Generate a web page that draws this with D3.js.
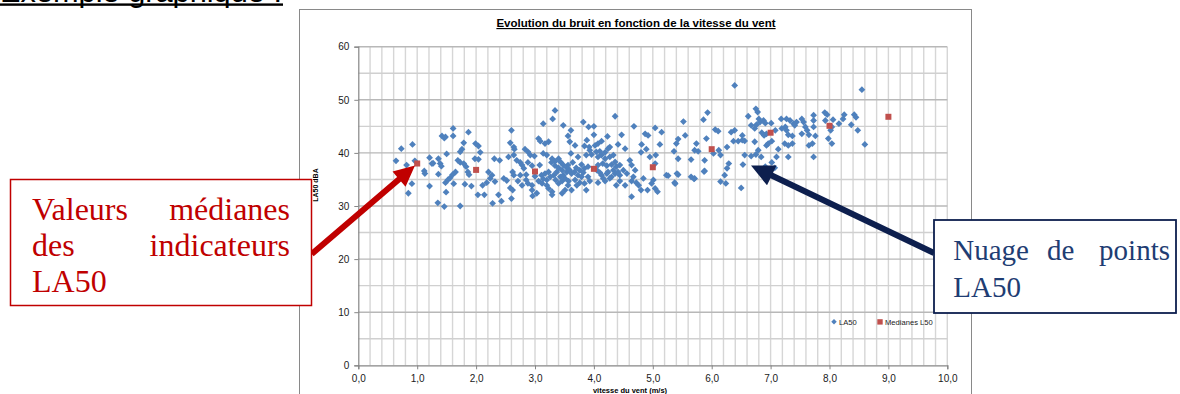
<!DOCTYPE html>
<html>
<head>
<meta charset="utf-8">
<script src="https://cdn.jsdelivr.net/npm/d3@7/dist/d3.min.js"></script>
<style>
  body { margin: 0; background: #fff; }
  svg { display: block; }
</style>
</head>
<body>
<svg id="chart"></svg>
<script>
// nuage de points LA50 : [vitesse du vent (m/s), LA50 (dBA)]
const la50Points = [
  [0.64,38.5],[0.73,40.8],[0.92,41.6],[0.82,37.7],[0.91,34.2],[0.85,32.4],[0.96,38.5],[1.27,38.05],
  [1.21,39.1],[1.25,38],[1.12,36.6],[1.13,36.1],[1.21,33.75],[1.36,36],[1.35,30.6],[1.46,29.9],[1.42,43.2],
  [1.46,42.8],[1.48,43.0],[1.61,44.6],[1.61,43.2],[1.50,39.8],[1.36,38.9],[1.39,38],[1.41,37.5],[1.48,34.4],
  [1.52,34.9],[1.56,35.3],[1.60,35.9],[1.65,36.4],[1.62,34.2],[1.49,32.6],[1.73,30],[1.79,41.9],[1.76,40.7],
  [1.73,40.2],[1.69,38.6],[1.73,38.2],[1.79,38],[1.83,37.4],[1.87,43.9],[1.81,34.1],[1.92,33.75],[1.86,36.4],
  [1.88,35.9],[1.99,41.75],[2.04,41.3],[2.07,40.1],[1.98,38.9],[2.04,38.8],[2.03,32.1],[2.14,32.1],[2.11,33.9],
  [2.18,34.4],[2.24,35.2],[2.21,36.4],[2.27,35.8],[2.31,38.9],[2.28,30.5],[2.43,30.9],[2.38,32.1],[2.32,34.6],
  [2.40,38.6],[2.47,35.2],[2.52,34.8],[2.55,39.25],[2.60,44.25],[2.58,41.9],[2.64,41.1],[2.65,40.7],[2.64,39.6],
  [2.69,38.6],[2.75,38.2],[2.78,37.7],[2.62,36.4],[2.64,35.8],[2.58,33.4],[2.62,33],[2.60,31.4],[2.83,40.7],
  [2.88,40.2],[2.92,39.6],[2.85,34.9],[2.88,34.25],[2.95,33],[2.96,31.9],[2.99,39.4],[3.06,42.7],[3.09,42.2],
  [3.14,45.5],[3.30,46.4],[3.34,48],[3.17,41.75],[3.23,42.1],[3.14,39.9],[3.20,39.6],[3.29,38.9],[3.34,38.4],
  [3.40,38.9],[3.44,38.2],[3.48,45.2],[3.11,35.8],[3.17,36.1],[3.23,36.4],[3.26,35.5],[3.32,35.8],[3.06,34.7],
  [3.12,34.25],[3.20,33.9],[3.23,33.3],[3.29,32.7],[3.29,32.1],[3.40,34.25],[3.46,34.7],[3.46,32.4],[3.03,32.4],
  [2.95,33.9],[3.28,38.2],[3.34,37.6],[3.40,37.2],[3.46,36.75],[3.48,37.7],[3.37,36.4],[3.43,35.5],[3.48,35.8],
  [3.35,34.9],[3.20,34.9],[3.14,35.1],[3.00,35.6],[3.08,37.7],[2.95,37.6],[2.88,38.2],[2.81,37.1],[2.85,35.9],
  [2.75,35.8],[2.71,34.7],[2.78,33.9],
  [3.61,44.25],[3.56,43.2],[3.59,42.1],[3.68,41.4],[3.82,45.8],[3.91,44.9],[4.00,45],[4.00,43.4],[3.88,42.4],
  [3.84,41.3],[3.92,41.1],[4.02,41.4],[4.07,41.75],[4.13,42.2],[4.23,43.1],[4.27,41.1],[4.36,46.9],[4.41,41.6],
  [4.47,43.4],[4.53,40.8],[3.61,39.9],[3.73,39.25],[3.87,39.6],[3.96,39.7],[4.04,40.2],[4.13,39.6],[4.19,40.1],
  [4.27,39.25],[4.33,39.6],[3.56,37.7],[3.64,38.2],[3.70,37.2],[3.79,37.8],[3.84,37.1],[3.90,37.4],[4.07,37.7],
  [4.15,38],[4.22,37.6],[4.30,37.8],[4.38,37.4],[4.44,37.7],[4.50,36.75],[3.54,36.4],[3.62,36.1],[3.73,35.8],
  [3.82,36.3],[3.90,35.5],[4.13,35.8],[4.22,36.1],[4.30,35.5],[4.36,36.1],[4.44,35.8],[3.51,35.2],[3.57,34.7],
  [3.68,34.9],[3.76,34.4],[3.93,34.7],[4.07,34.4],[4.19,34.7],[4.27,35.2],[4.38,33.9],[4.44,34.7],[3.51,33],
  [3.62,33],[3.87,33],[4.53,33.9],[4.56,36.1],[4.61,38.6],[4.64,37.7],[4.70,36.75],[4.67,35.5],[4.64,34.7],
  [4.72,34.4],[4.76,33.9],[4.80,33],[4.64,31.75],[4.68,45],[4.81,41.6],[4.87,43.6],[4.92,43.3],[4.89,40.7],
  [4.95,39.25],[5.05,39.6],[4.80,40.1],[5.12,41.6],[5.15,43.9],[5.04,44.7],[5.04,38],[4.98,34.25],[5.01,34.9],
  [5.04,33.3],[5.08,32.7],[4.91,33],[4.84,35.2],[5.23,35.8],[5.26,35.7],[5.37,34.4],[5.36,40.3],[5.40,41.75],
  [5.43,42.6],[5.52,45.9],[5.55,43.3],[5.43,38.9],[5.43,35.9],[5.65,38.75],[5.65,35.5],[5.71,35.2],[5.71,40.5],
  [5.74,41.75],[5.77,40.3],[5.86,46.25],[5.93,47.6],[5.91,42.7],[5.88,38.6],[5.88,36.6],[6.06,44.4],[6.11,44.1],
  [6.03,39.9],[6.15,39.6],[6.12,40.5],[6.26,41.1],[6.29,38],[6.26,37.1],[6.22,35.8],[6.15,34.6],[6.24,34.25],
  [6.33,43.9],[6.39,44.25],[6.37,42.2],[6.39,52.7],
  [3.54,37.2],[3.59,36.75],[3.67,36.4],[3.76,36.75],[3.79,35.5],[3.71,33.9],[3.56,33.9],[3.84,34.25],[4.05,36.75],
  [4.10,36.3],[4.16,35.2],[4.24,36.4],[4.33,36.75],[4.41,36.4],[4.19,38.9],[4.07,39.25],[4.36,38.3],[4.24,40.8],
  [4.10,40.3],[3.93,40.5],[5.41,36.1],[5.38,34.2],[5.70,35.1],[5.87,36.5],[6.91,37.4],
  [6.52,43.3],[6.52,42.4],[6.45,42.2],[6.56,42.25],[6.62,46.9],[6.75,48.3],[6.78,47.7],[6.80,46.4],[6.82,45.8],
  [6.88,46.1],[6.67,45.2],[6.73,44.6],[6.76,45.3],[6.91,45.6],[7.01,45.6],[6.85,43.8],[6.89,43.3],[6.93,43.6],
  [7.08,44.25],[6.73,42.1],[6.79,40.5],[6.93,41.4],[6.96,41.75],[7.02,42.2],[7.13,40.7],[6.56,39.6],[6.67,39.4],
  [6.75,39.7],[6.84,39.25],[7.10,39.25],[7.30,39.25],[6.53,37.8],[7.02,38.2],[7.07,37.2],[6.50,33.4],[7.18,46.4],
  [7.19,44.6],[7.25,44.9],[7.27,46.4],[7.33,46.1],[7.39,45.5],[7.44,45.8],[7.53,46.4],[7.56,45.8],[7.27,44.25],
  [7.30,43.4],[7.37,43.2],[7.41,45.2],[7.59,44.9],[7.62,44.25],[7.73,47.1],[7.73,46.1],[7.73,44.9],[7.53,43.6],
  [7.65,43.4],[7.76,43.2],[7.24,41.75],[7.30,41.4],[7.37,41.75],[7.65,41.4],[7.71,41.75],[7.73,39.25],[7.92,47.6],
  [7.96,47.2],[7.93,46.1],[8.06,46.25],[8.04,44.9],[8.02,44.25],[7.98,42.7],[8.04,41.75],[8.16,45.5],[8.25,47.2],
  [8.23,46.4],[8.37,45.3],[8.42,47.2],[8.45,46.7],[8.48,44.25],[8.55,51.9],[8.60,41.6]
];
// medianes L50 par classe de vent
const medianWind = [1, 2, 3, 4, 5, 6, 7, 8, 9];
const medianLA50 = [38.0, 36.8, 36.5, 37.0, 37.3, 40.7, 43.8, 45.1, 46.8];
// graduations
const xTickValues = [0, 1, 2, 3, 4, 5, 6, 7, 8, 9, 10];
const yTickValues = [0, 10, 20, 30, 40, 50, 60];
const legendLabels = ["LA50", "Medianes L50"];

const blue = "#4f81bd";
const red = "#c0504d";

drawChart();

function drawChart() {
  //taille du canevas
  const width = 1180;
  const height = 394;
  const svg = d3.select("#chart").attr("width", width).attr("height", height);
  const plot = { left: 358.3, top: 46.7, right: 947.3, bottom: 365.3 };

  //en-tete de page (coupe en haut, comme sur l'original)
  svg.append("text")
    .attr("x", 0).attr("y", 1.5)
    .attr("font-family", "Liberation Sans, Arial, sans-serif")
    .attr("font-size", 30)
    .attr("textLength", 282).attr("lengthAdjust", "spacingAndGlyphs")
    .text("Exemple graphique :");
  svg.append("rect").attr("x", 0).attr("y", 3.4).attr("width", 283).attr("height", 2.4).attr("fill", "#000");

  //cadre du graphique
  svg.append("rect")
    .attr("x", 299.5).attr("y", 9.5).attr("width", 672).attr("height", 400)
    .attr("fill", "#fff").attr("stroke", "#898989").attr("stroke-width", 1);

  //echelles
  const xScale = d3.scaleLinear().domain([0, 10]).range([plot.left, plot.right]);
  const yScale = d3.scaleLinear().domain([0, 60]).range([plot.bottom, plot.top]);

  //grille verticale tous les 0,2
  const grid = svg.append("g");
  grid.selectAll(".vgrid")
    .data(d3.range(1, 51).map(i => i / 5))
    .enter().append("line")
    .attr("x1", d => xScale(d)).attr("x2", d => xScale(d))
    .attr("y1", plot.top).attr("y2", plot.bottom)
    .attr("stroke", "#d6d6d6").attr("stroke-width", 1.4);
  //grille horizontale tous les 5
  grid.selectAll(".hgrid")
    .data(d3.range(1, 13).map(i => i * 5))
    .enter().append("line")
    .attr("x1", plot.left).attr("x2", plot.right)
    .attr("y1", d => yScale(d)).attr("y2", d => yScale(d))
    .attr("stroke", d => d % 10 === 0 ? "#b8b8b8" : "#d0d0d0").attr("stroke-width", 1.4);

  //axe y
  const yAxis = d3.axisLeft(yScale).tickValues(yTickValues).tickSize(4).tickPadding(5).tickFormat(d3.format("d"));
  const gy = svg.append("g").attr("transform", `translate(${plot.left},0)`).call(yAxis);
  //axe x
  const xAxis = d3.axisBottom(xScale).tickValues(xTickValues).tickSize(4).tickPadding(5.3)
    .tickFormat(d => d3.format(".1f")(d).replace(".", ","));
  const gx = svg.append("g").attr("transform", `translate(0,${plot.bottom})`).call(xAxis);
  [gx, gy].forEach(g => {
    g.select(".domain").attr("stroke", "#868686").attr("stroke-width", 1.2);
    g.selectAll(".tick line").attr("stroke", "#868686");
    g.selectAll(".tick text")
      .attr("fill", "#1a1a1a")
      .attr("font-family", "Liberation Sans, Arial, sans-serif")
      .attr("font-size", 10);
  });

  //titre
  svg.append("text")
    .attr("x", 636).attr("y", 27)
    .attr("text-anchor", "middle")
    .attr("font-family", "Liberation Sans, Arial, sans-serif")
    .attr("font-size", 11.5).attr("font-weight", "bold")
    .attr("text-decoration", "underline")
    .text("Evolution du bruit en fonction de la vitesse du vent");

  //titres des axes
  svg.append("text")
    .attr("transform", "translate(318,185) rotate(-90)")
    .attr("text-anchor", "middle")
    .attr("font-family", "Liberation Sans, Arial, sans-serif")
    .attr("font-size", 7).attr("font-weight", "bold")
    .text("LA50 dBA");
  svg.append("text")
    .attr("x", 630).attr("y", 392.5)
    .attr("text-anchor", "middle")
    .attr("font-family", "Liberation Sans, Arial, sans-serif")
    .attr("font-size", 7.5).attr("font-weight", "bold")
    .text("vitesse du vent (m/s)");

  //nuage de points (losanges)
  const diamond = d3.symbol().type(d3.symbolSquare).size(23);
  svg.append("g").selectAll("path")
    .data(la50Points)
    .enter().append("path")
    .attr("d", diamond)
    .attr("transform", d => `translate(${xScale(d[0])},${yScale(d[1])}) rotate(45)`)
    .attr("fill", blue);

  //medianes (carres)
  svg.append("g").selectAll("rect")
    .data(medianWind)
    .enter().append("rect")
    .attr("x", d => xScale(d) - 3)
    .attr("y", (d, i) => yScale(medianLA50[i]) - 3)
    .attr("width", 6).attr("height", 6)
    .attr("fill", red);

  //legende
  const leg = svg.append("g").attr("font-family", "Liberation Sans, Arial, sans-serif").attr("font-size", 7.6).attr("fill", "#1a1a1a");
  leg.append("path").attr("d", d3.symbol().type(d3.symbolSquare).size(15)).attr("transform", "translate(834,321.7) rotate(45)").attr("fill", blue);
  leg.append("text").attr("x", 839).attr("y", 324.5).text(legendLabels[0]);
  leg.append("rect").attr("x", 877.3).attr("y", 319.2).attr("width", 5.4).attr("height", 5.4).attr("fill", red);
  leg.append("text").attr("x", 885).attr("y", 324.5).text(legendLabels[1]);

  //fleches d'annotation
  drawArrow(svg, 311.7, 254, 415, 165.5, 6, 21, 10, "#c00000");
  drawArrow(svg, 934, 253, 751, 165.5, 6, 23, 11, "#0d1f4e");

  //encadre rouge
  svg.append("rect").attr("x", 10.5).attr("y", 179.5).attr("width", 301).attr("height", 126)
    .attr("fill", "#fff").attr("stroke", "#c00000").attr("stroke-width", 1.5);
  const redText = svg.append("g").attr("font-family", "Liberation Serif, Times New Roman, serif")
    .attr("font-size", 32).attr("fill", "#c00000");
  redText.append("text").attr("x", 32).attr("y", 220).text("Valeurs");
  redText.append("text").attr("x", 290).attr("y", 220).attr("text-anchor", "end").text("médianes");
  redText.append("text").attr("x", 32).attr("y", 256).text("des");
  redText.append("text").attr("x", 290).attr("y", 256).attr("text-anchor", "end").text("indicateurs");
  redText.append("text").attr("x", 32).attr("y", 291.7).text("LA50");

  //encadre bleu
  svg.append("rect").attr("x", 934).attr("y", 220).attr("width", 242).attr("height", 93)
    .attr("fill", "#fff").attr("stroke", "#0d1f4e").attr("stroke-width", 1.8);
  const blueText = svg.append("g").attr("font-family", "Liberation Serif, Times New Roman, serif")
    .attr("font-size", 29).attr("fill", "#1f3d73");
  blueText.append("text").attr("x", 953.3).attr("y", 260).text("Nuage");
  blueText.append("text").attr("x", 1047).attr("y", 260).text("de");
  blueText.append("text").attr("x", 1170).attr("y", 260).attr("text-anchor", "end").text("points");
  blueText.append("text").attr("x", 953.3).attr("y", 296.7).text("LA50");
}

//fleche pleine de (x1,y1) vers (x2,y2)
function drawArrow(svg, x1, y1, x2, y2, shaft, headLen, headHalf, color) {
  const len = Math.hypot(x2 - x1, y2 - y1);
  const ux = (x2 - x1) / len, uy = (y2 - y1) / len;
  const nx = -uy, ny = ux;
  const bx = x2 - ux * headLen, by = y2 - uy * headLen;
  const s = shaft / 2;
  const pts = [
    [x1 + nx * s, y1 + ny * s], [bx + nx * s, by + ny * s], [bx + nx * headHalf, by + ny * headHalf],
    [x2, y2],
    [bx - nx * headHalf, by - ny * headHalf], [bx - nx * s, by - ny * s], [x1 - nx * s, y1 - ny * s]
  ];
  svg.append("polygon").attr("points", pts.map(p => p.join(",")).join(" ")).attr("fill", color);
}
</script>
</body>
</html>
